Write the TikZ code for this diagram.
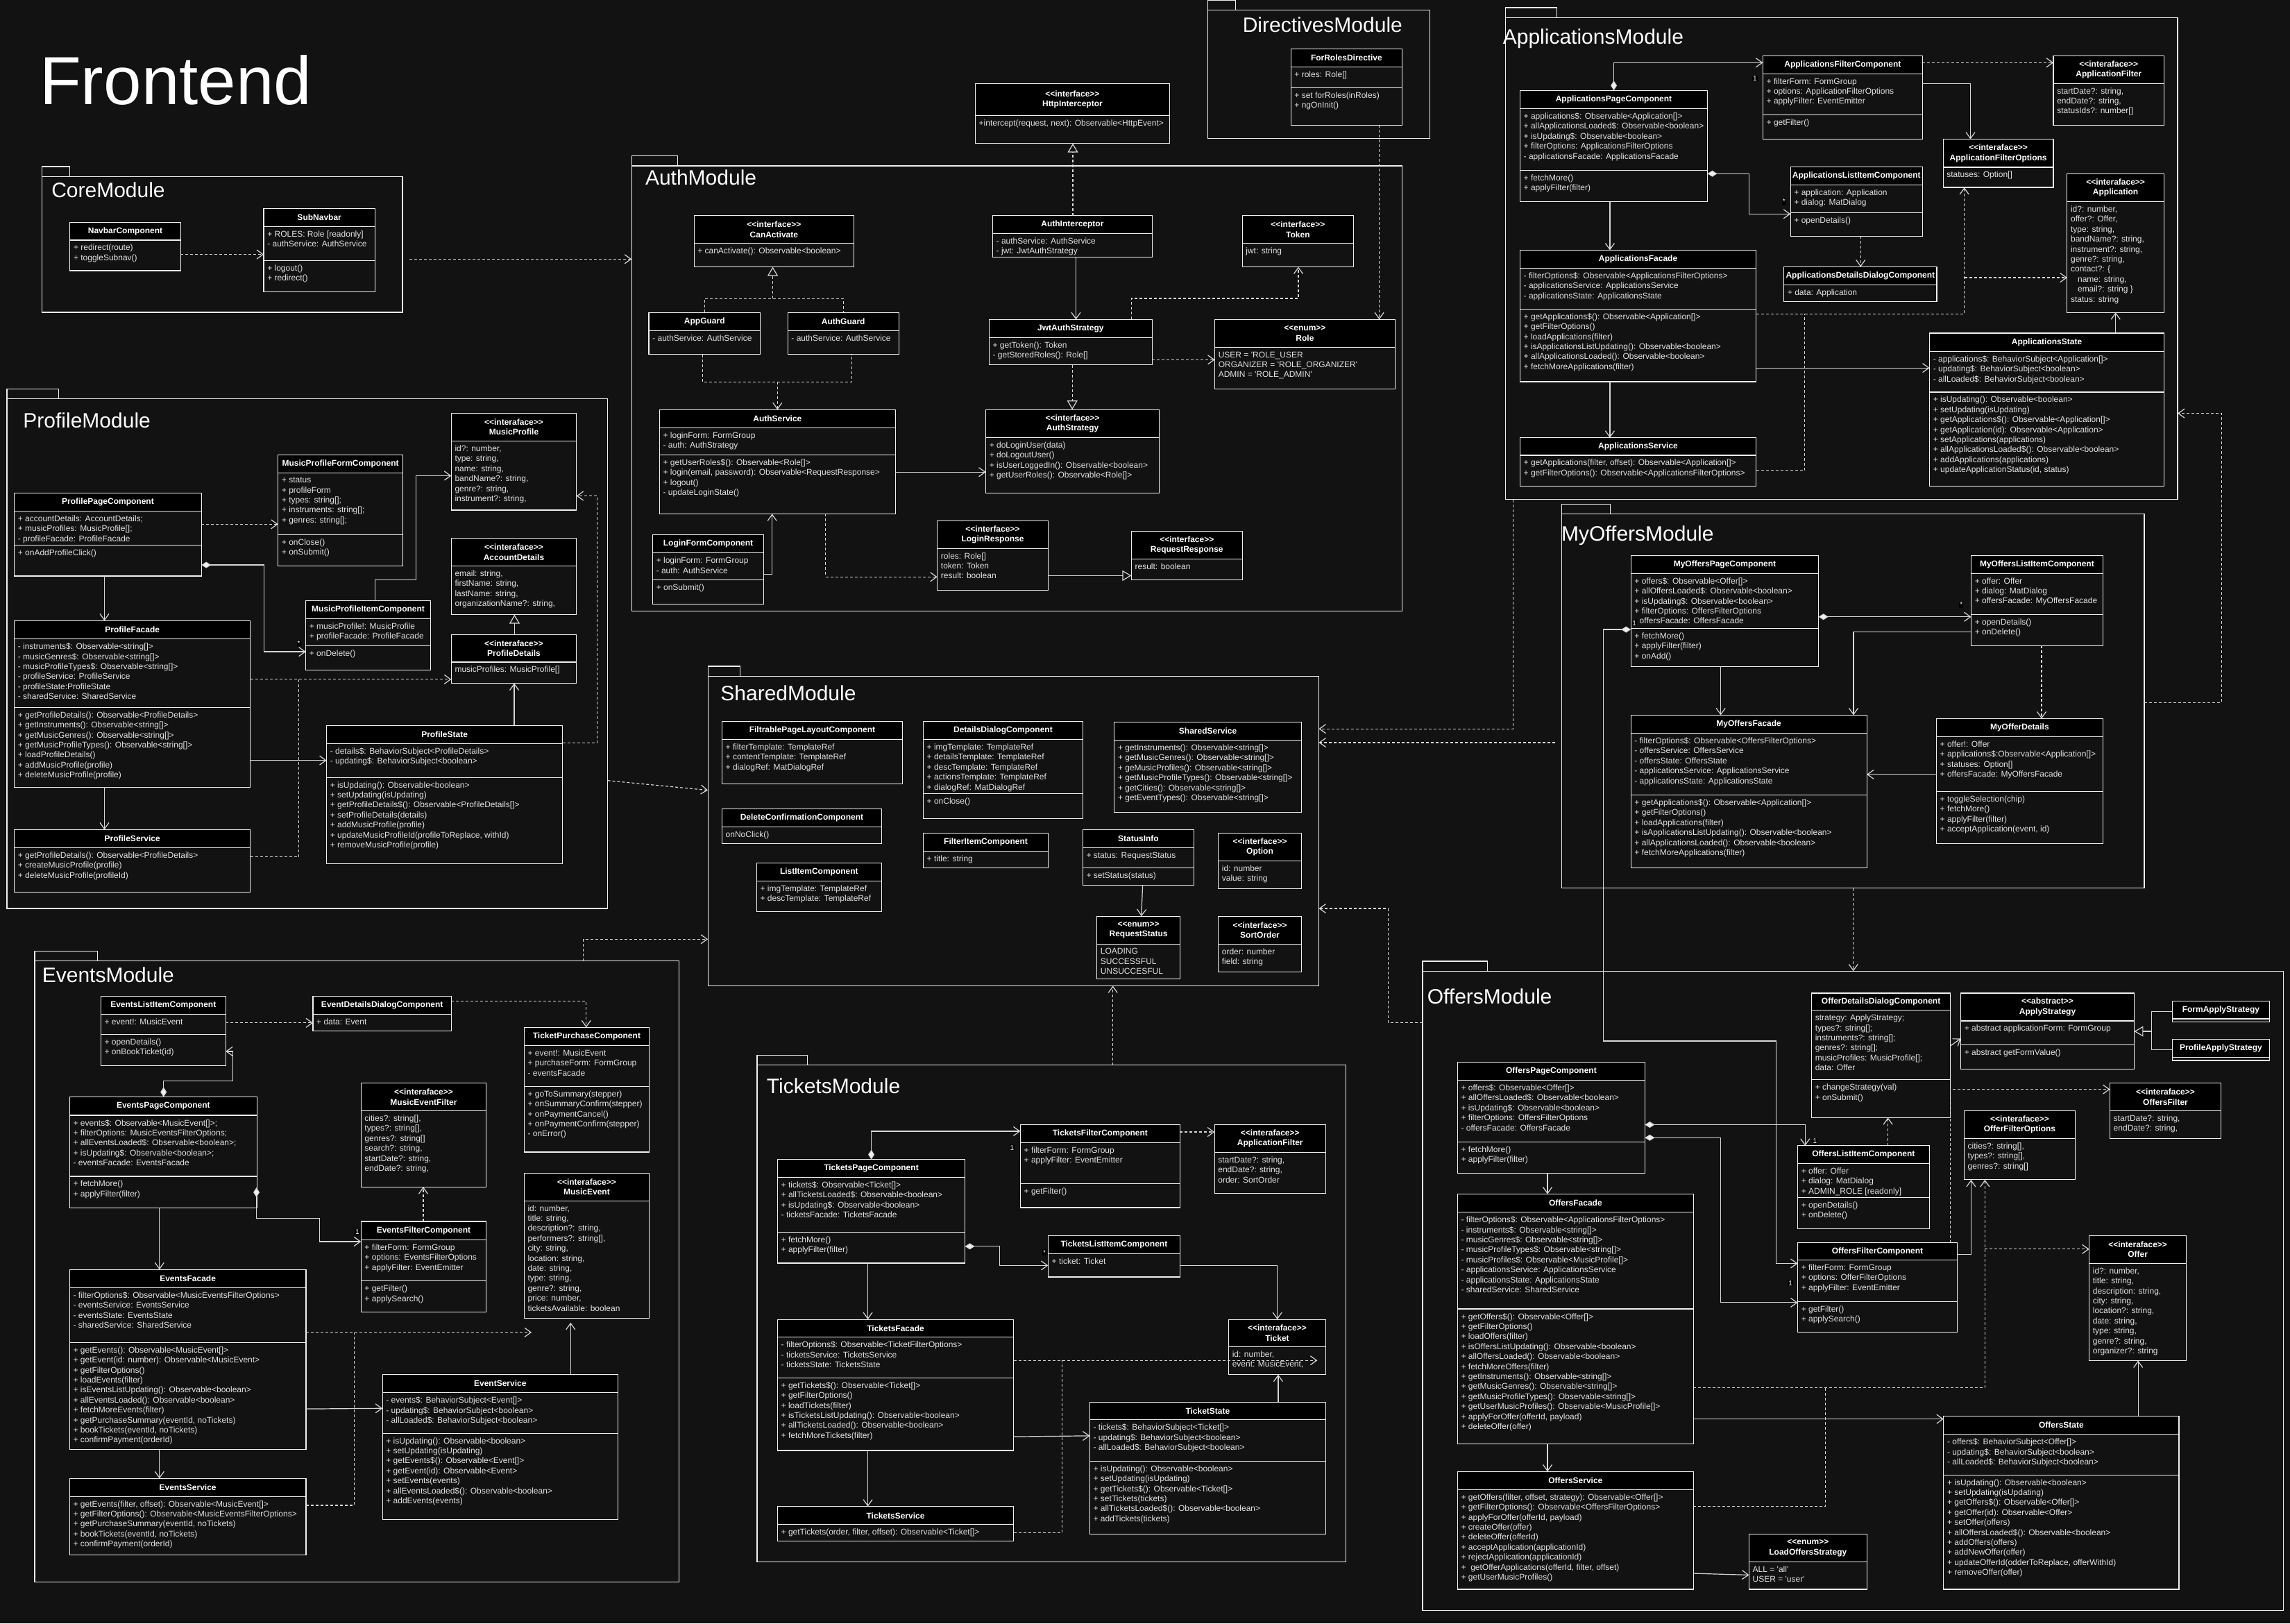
\documentclass[tikz,border=0pt]{standalone}
\usepackage{fontspec}
\setmainfont{Liberation Sans}
\newfontfamily\uif{Liberation Sans}
\usetikzlibrary{arrows.meta,fit}
\definecolor{bgc}{RGB}{18,18,18}
\definecolor{fgc}{RGB}{240,240,240}
\definecolor{txc}{RGB}{226,226,226}
\definecolor{lnc}{RGB}{215,215,215}
\tikzset{
  boxln/.style={draw=fgc, line width=1.2pt},
  pkgln/.style={draw=fgc, line width=1.2pt},
  hdr/.style={font=\uif\bfseries\fontsize{12}{14.4}\selectfont, text=white, align=center, inner sep=0pt},
  bodytxt/.style={font=\uif\fontsize{12}{14.4}\selectfont, text=txc, align=left, inner sep=0pt, anchor=north west},
  modtitle/.style={font=\uif\fontsize{30}{36}\selectfont, text=white, anchor=west, inner sep=0pt},
  mult/.style={font=\uif\fontsize{10}{12}\selectfont, text=white, fill=black, inner sep=1pt},
  conn/.style={draw=lnc, line width=1.2pt},
  dep/.style={conn, dash pattern=on 4pt off 3pt},
  opn/.style={-{Straight Barb[length=9pt,width=13pt]}},
  tri/.style={-{Triangle[open,length=13pt,width=15pt]}},
  comp/.style={conn, {Diamond[length=14pt,width=9pt,fill=fgc]}-{Straight Barb[length=9pt,width=13pt]}}
}
\newcommand\cls[9]{%
  \node[fit={(#2,#3) (#4,#5)}, inner sep=0pt, outer sep=0pt] (#1) {};
  \fill[bgc] (#2,#3) rectangle (#4,#5);
  \fill[black] (#2,#3) rectangle (#4,#6);
  \ifdim #7pt>0pt \draw[boxln] (#2,#7) -- (#4,#7); \coordinate (#1-m) at (#2,#7);\fi
  \draw[boxln] (#2,#6) -- (#4,#6);
  \draw[boxln] (#2,#3) rectangle (#4,#5);
  \node[hdr] at ({(#2+#4)/2},{(#3+#6)/2}) {#8};
  \node[bodytxt, xshift=5pt, yshift=-6pt] at (#2,#6) {#9};
}
\newcommand\mth[2]{\node[bodytxt, xshift=5pt, yshift=-6pt] at (#1-m) {#2};}
\newcommand\pkg[6]{%
  \node[fit={(#2,#3) (#4,#5)}, inner sep=0pt, outer sep=0pt] (#1) {};
  \draw[pkgln] (#2,#3) rectangle (#4,#5);
  \draw[pkgln] (#2,{#3-6.8}) rectangle ({#2+#6},#3);
}
\begin{document}
\begin{tikzpicture}[x=2.1046pt,y=-2.1046pt]
\useasboundingbox (0,0) rectangle (1568,1111.4);
\fill[bgc] (0,0) rectangle (1568,1111.4);

\node[font=\uif\fontsize{98}{100}\selectfont, text=white, anchor=base west, inner sep=0pt] (ttl) at (27,71.6) {Frontend};

% ---------------- packages
\pkg{core}{28.7}{120.8}{275.6}{213.8}{19.2}
\pkg{profile}{4.75}{273}{416}{622}{35.5}
\pkg{auth}{432.5}{113.6}{960}{418.2}{31.5}
\pkg{directives}{827}{6.8}{979}{94.9}{19}
\pkg{apps}{1031}{12}{1491}{342}{35}
\pkg{myoffers}{1069.5}{352}{1468.2}{608.1}{33}
\pkg{shared}{484.7}{462.9}{903}{674.9}{22}
\pkg{events}{23.8}{658}{465}{1083.1}{43}
\pkg{tickets}{518.4}{729.2}{921.5}{1069.4}{34.4}
\pkg{offers}{974}{664.9}{1563.5}{1102.5}{44.6}

\node[modtitle] (t1) at (35.2,129.9) {CoreModule};
\node[modtitle] (t2) at (15.8,288) {ProfileModule};
\node[modtitle] (t3) at (441.8,121.4) {AuthModule};
\node[modtitle] (t4) at (850.8,16.9) {DirectivesModule};
\node[modtitle] (t5) at (1029,26.5) {ApplicationsModule};
\node[modtitle] (t6) at (1069,366.7) {MyOffersModule};
\node[modtitle] (t7) at (493.3,474.6) {SharedModule};
\node[modtitle] (t8) at (28.8,667.7) {EventsModule};
\node[modtitle] (t9) at (524.9,743.6) {TicketsModule};
\node[modtitle] (t10) at (977.2,682.2) {OffersModule};

% ---------------- Core
\cls{nav}{47.9}{152.4}{123.7}{185.3}{164.4}{0}{NavbarComponent}{+ redirect(route)\\+ toggleSubnav()}
\cls{sub}{180.6}{142.7}{256.7}{199.9}{155.1}{178.3}{SubNavbar}{+ ROLES: Role [readonly]\\- authService: AuthService}
\mth{sub}{+ logout()\\+ redirect()}

% ---------------- Profile
\cls{ppc}{9.8}{337.7}{137.9}{394.4}{349.9}{373.2}{ProfilePageComponent}{+ accountDetails: AccountDetails;\\+ musicProfiles: MusicProfile[];\\- profileFacade: ProfileFacade}
\mth{ppc}{+ onAddProfileClick()}
\cls{mpf}{190.4}{311.4}{275.8}{387.5}{323.9}{366.0}{MusicProfileFormComponent}{+ status\\+ profileForm\\+ types: string[];\\+ instruments: string[];\\+ genres: string[];}
\mth{mpf}{+ onClose()\\+ onSubmit()}
\cls{mp}{309}{282.9}{394.7}{349.2}{302.0}{0}{<<interaface>>\\MusicProfile}{id?: number,\\type: string,\\name: string,\\bandName?: string,\\genre?: string,\\instrument?: string,}
\cls{ad}{309}{368.6}{394.7}{420.8}{387.4}{0}{<<interaface>>\\AccountDetails}{email: string,\\firstName: string,\\lastName: string,\\organizationName?: string,}
\cls{pd}{309}{434.4}{394.7}{467.8}{453.3}{0}{<<interaface>>\\ProfileDetails}{musicProfiles: MusicProfile[]}
\cls{mpi}{209.4}{411.2}{294.8}{458.6}{423.6}{442.0}{MusicProfileItemComponent}{+ musicProfile!: MusicProfile\\+ profileFacade: ProfileFacade}
\mth{mpi}{+ onDelete()}
\cls{pf}{9.8}{425}{171.4}{539}{437.4}{484.4}{ProfileFacade}{- instruments\$: Observable<string[]>\\- musicGenres\$: Observable<string[]>\\- musicProfileTypes\$: Observable<string[]>\\- profileService: ProfileService\\- profileState:ProfileState\\- sharedService: SharedService}
\mth{pf}{+ getProfileDetails(): Observable<ProfileDetails>\\+ getInstruments(): Observable<string[]>\\+ getMusicGenres(): Observable<string[]>\\+ getMusicProfileTypes(): Observable<string[]>\\+ loadProfileDetails()\\+ addMusicProfile(profile)\\+ deleteMusicProfile(profile)}
\cls{ps}{223.6}{496.6}{385.2}{591.5}{509.0}{532.3}{ProfileState}{- details\$: BehaviorSubject<ProfileDetails>\\- updating\$: BehaviorSubject<boolean>}
\mth{ps}{+ isUpdating(): Observable<boolean>\\+ setUpdating(isUpdating)\\+ getProfileDetails\$(): Observable<ProfileDetails[]>\\+ setProfileDetails(details)\\+ addMusicProfile(profile)\\+ updateMusicProfileId(profileToReplace, withId)\\+ removeMusicProfile(profile)}
\cls{psv}{9.8}{568}{171.4}{610.8}{580.4}{0}{ProfileService}{+ getProfileDetails(): Observable<ProfileDetails>\\+ createMusicProfile(profile)\\+ deleteMusicProfile(profileId)}

% ---------------- Auth
\cls{ca}{475.2}{147.5}{584.7}{182.7}{166.6}{0}{<<interface>>\\CanActivate}{+ canActivate(): Observable<boolean>}
\cls{ag}{444.3}{213.9}{520.5}{242.6}{226.3}{0}{AppGuard}{- authService: AuthService}
\cls{aug}{539.4}{213.9}{615.4}{242.6}{226.3}{0}{AuthGuard}{- authService: AuthService}
\cls{as}{451.6}{280.5}{613.1}{351.8}{292.9}{311.4}{AuthService}{+ loginForm: FormGroup\\- auth: AuthStrategy}
\mth{as}{+ getUserRoles\$(): Observable<Role[]>\\+ login(email, password): Observable<RequestResponse>\\+ logout()\\- updateLoginState()}
\cls{lf}{446.9}{366.2}{522.9}{413.7}{378.6}{397.1}{LoginFormComponent}{+ loginForm: FormGroup\\- auth: AuthService}
\mth{lf}{+ onSubmit()}
\cls{lr}{641.8}{356.7}{717.6}{404.0}{375.5}{0}{<<interface>>\\LoginResponse}{roles: Role[]\\token: Token\\result: boolean}
\cls{rr}{774.7}{363.8}{850.6}{396.8}{382.7}{0}{<<interface>>\\RequestResponse}{result: boolean}
\cls{hi}{667.8}{57.3}{800.8}{98.2}{79.1}{0}{<<interface>>\\HttpInterceptor}{+intercept(request, next): Observable<HttpEvent>}
\cls{ai}{679.7}{147.6}{788.9}{175.9}{159.8}{0}{AuthInterceptor}{- authService: AuthService\\- jwt: JwtAuthStrategy}
\cls{jw}{677.3}{218.7}{788.9}{249.8}{231}{0}{JwtAuthStrategy}{+ getToken(): Token\\- getStoredRoles(): Role[]}
\cls{tk}{850.6}{147.6}{926.8}{182.7}{166.6}{0}{<<interface>>\\Token}{jwt: string}
\cls{role}{831.8}{218.7}{955.2}{266.2}{237.8}{0}{<<enum>>\\Role}{USER = 'ROLE\_USER\\ORGANIZER = 'ROLE\_ORGANIZER'\\ADMIN = 'ROLE\_ADMIN'}
\cls{ast}{675}{280.4}{793.8}{337.6}{299.5}{0}{<<interface>>\\AuthStrategy}{+ doLoginUser(data)\\+ doLogoutUser()\\+ isUserLoggedIn(): Observable<boolean>\\+ getUserRoles(): Observable<Role[]>}
\cls{frd}{883.9}{33.5}{960}{85.6}{45.8}{60}{ForRolesDirective}{+ roles: Role[]}
\mth{frd}{+ set forRoles(inRoles)\\+ ngOnInit()}

% ---------------- Applications
\cls{apc}{1040.8}{61.9}{1169.1}{138.1}{74.3}{116.5}{ApplicationsPageComponent}{+ applications\$: Observable<Application[]>\\+ allApplicationsLoaded\$: Observable<boolean>\\+ isUpdating\$: Observable<boolean>\\+ filterOptions: ApplicationsFilterOptions\\- applicationsFacade: ApplicationsFacade}
\mth{apc}{+ fetchMore()\\+ applyFilter(filter)}
\cls{afc}{1207.1}{38.1}{1316.3}{95.1}{50.5}{78.5}{ApplicationsFilterComponent}{+ filterForm: FormGroup\\+ options: ApplicationFilterOptions\\+ applyFilter: EventEmitter}
\mth{afc}{+ getFilter()}
\cls{ali}{1226}{114.3}{1316.3}{161.7}{126.5}{145.5}{ApplicationsListItemComponent}{+ application: Application\\+ dialog: MatDialog}
\mth{ali}{+ openDetails()}
\cls{addc}{1221.5}{182.7}{1326.1}{206.3}{194.9}{0}{ApplicationsDetailsDialogComponent}{+ data: Application}
\cls{af}{1040.8}{171.3}{1202.4}{261.3}{183.5}{211.5}{ApplicationsFacade}{- filterOptions\$: Observable<ApplicationsFilterOptions>\\- applicationsService: ApplicationsService\\- applicationsState: ApplicationsState}
\mth{af}{+ getApplications\$(): Observable<Application[]>\\+ getFilterOptions()\\+ loadApplications(filter)\\+ isApplicationsListUpdating(): Observable<boolean>\\+ allApplicationsLoaded(): Observable<boolean>\\+ fetchMoreApplications(filter)}
\cls{asv}{1040.8}{299.7}{1202.4}{332.7}{311.7}{0}{ApplicationsService}{+ getApplications(filter, offset): Observable<Application[]>\\+ getFilterOptions(): Observable<ApplicationsFilterOptions>}
\cls{afo}{1330.5}{95.3}{1406}{128.3}{114.5}{0}{<<interaface>>\\ApplicationFilterOptions}{statuses: Option[]}
\cls{afl}{1406}{38.1}{1481.7}{85.7}{57.1}{0}{<<interaface>>\\ApplicationFilter}{startDate?: string,\\endDate?: string,\\statusIds?: number[]}
\cls{app}{1415.4}{118.9}{1481.7}{213.9}{138.1}{0}{<<interaface>>\\Application}{id?: number,\\offer?: Offer,\\type: string,\\bandName?: string,\\instrument?: string,\\genre?: string,\\contact?: \{\\\hspace*{10pt}name: string,\\\hspace*{10pt}email?: string \}\\status: string}
\cls{ast2}{1321.2}{228.1}{1481.7}{332.7}{240.5}{268.5}{ApplicationsState}{- applications\$: BehaviorSubject<Application[]>\\- updating\$: BehaviorSubject<boolean>\\- allLoaded\$: BehaviorSubject<boolean>}
\mth{ast2}{+ isUpdating(): Observable<boolean>\\+ setUpdating(isUpdating)\\+ getApplications\$(): Observable<Application[]>\\+ getApplication(id): Observable<Application>\\+ setApplications(applications)\\+ allApplicationsLoaded\$(): Observable<boolean>\\+ addApplications(applications)\\+ updateApplicationStatus(id, status)}

% ---------------- MyOffers
\cls{mopc}{1116.7}{380.2}{1245.2}{456.3}{392.6}{430.2}{MyOffersPageComponent}{+ offers\$: Observable<Offer[]>\\+ allOffersLoaded\$: Observable<boolean>\\+ isUpdating\$: Observable<boolean>\\+ filterOptions: OffersFilterOptions\\- offersFacade: OffersFacade}
\mth{mopc}{+ fetchMore()\\+ applyFilter(filter)\\+ onAdd()}
\cls{moli}{1349.7}{380.2}{1439.8}{442}{392.6}{420.7}{MyOffersListItemComponent}{+ offer: Offer\\+ dialog: MatDialog\\+ offersFacade: MyOffersFacade}
\mth{moli}{+ openDetails()\\+ onDelete()}
\cls{mof}{1116.7}{489.6}{1278.2}{594}{502}{544.2}{MyOffersFacade}{- filterOptions\$: Observable<OffersFilterOptions>\\- offersService: OffersService\\- offersState: OffersState\\- applicationsService: ApplicationsService\\- applicationsState: ApplicationsState}
\mth{mof}{+ getApplications\$(): Observable<Application[]>\\+ getFilterOptions()\\+ loadApplications(filter)\\+ isApplicationsListUpdating(): Observable<boolean>\\+ allApplicationsLoaded(): Observable<boolean>\\+ fetchMoreApplications(filter)}
\cls{mod}{1325.9}{492}{1439.8}{577.4}{504.4}{542}{MyOfferDetails}{+ offer!: Offer\\+ applications\$:Observable<Application[]>\\+ statuses: Option[]\\+ offersFacade: MyOffersFacade}
\mth{mod}{+ toggleSelection(chip)\\+ fetchMore()\\+ applyFilter(filter)\\+ acceptApplication(event, id)}

% ---------------- Shared
\cls{fpl}{494.4}{493.8}{617.9}{536.6}{506.3}{0}{FiltrablePageLayoutComponent}{+ filterTemplate: TemplateRef\\+ contentTemplate: TemplateRef\\+ dialogRef: MatDialogRef}
\cls{ddc}{632.2}{493.8}{741.4}{560.3}{506.3}{543.5}{DetailsDialogComponent}{+ imgTemplate: TemplateRef\\+ detailsTemplate: TemplateRef\\+ descTemplate: TemplateRef\\+ actionsTemplate: TemplateRef\\+ dialogRef: MatDialogRef}
\mth{ddc}{+ onClose()}
\cls{ss}{763}{494.3}{891.1}{556.2}{506.8}{0}{SharedService}{+ getInstruments(): Observable<string[]>\\+ getMusicGenres(): Observable<string[]>\\+ geMusicProfiles(): Observable<string[]>\\+ getMusicProfileTypes(): Observable<string[]>\\+ getCities(): Observable<string[]>\\+ getEventTypes(): Observable<string[]>}
\cls{dcc}{494.4}{553.8}{603.6}{577.6}{566.2}{0}{DeleteConfirmationComponent}{onNoClick()}
\cls{lic}{518.1}{590.7}{603.6}{624}{603.2}{0}{ListItemComponent}{+ imgTemplate: TemplateRef\\+ descTemplate: TemplateRef}
\cls{fic}{632.2}{570.3}{717.7}{594.1}{582.8}{0}{FilterItemComponent}{+ title: string}
\cls{si}{741.4}{567.9}{817.5}{605.9}{580.4}{594.2}{StatusInfo}{+ status: RequestStatus}
\mth{si}{+ setStatus(status)}
\cls{rs}{751.1}{627.3}{808}{670.2}{646.3}{0}{<<enum>>\\RequestStatus}{LOADING\\SUCCESSFUL\\UNSUCCESFUL}
\cls{opt}{834.2}{570.3}{891.1}{608.3}{589.3}{0}{<<interface>>\\Option}{id: number\\value: string}
\cls{so}{834.2}{627.3}{891.1}{665.3}{646.3}{0}{<<interface>>\\SortOrder}{order: number\\field: string}

% ---------------- Events
\cls{eli}{69.1}{681.9}{154.5}{729.6}{694.4}{708.1}{EventsListItemComponent}{+ event!: MusicEvent}
\mth{eli}{+ openDetails()\\+ onBookTicket(id)}
\cls{edd}{214.3}{681.9}{309}{705.9}{694.4}{0}{EventDetailsDialogComponent}{+ data: Event}
\cls{tpc}{358.9}{703.4}{444.5}{788.7}{715.9}{743.8}{TicketPurchaseComponent}{+ event!: MusicEvent\\+ purchaseForm: FormGroup\\- eventsFacade}
\mth{tpc}{+ goToSummary(stepper)\\+ onSummaryConfirm(stepper)\\+ onPaymentCancel()\\+ onPaymentConfirm(stepper)\\- onError()}
\cls{epc}{47.7}{751}{176}{826.9}{763.6}{805.4}{EventsPageComponent}{+ events\$: Observable<MusicEvent[]>;\\+ filterOptions: MusicEventsFilterOptions;\\+ allEventsLoaded\$: Observable<boolean>;\\+ isUpdating\$: Observable<boolean>;\\- eventsFacade: EventsFacade}
\mth{epc}{+ fetchMore()\\+ applyFilter(filter)}
\cls{mef}{247.2}{741.6}{332.9}{812.6}{760.5}{0}{<<interaface>>\\MusicEventFilter}{cities?: string[],\\types?: string[],\\genres?: string[]\\search?: string,\\startDate?: string,\\endDate?: string,}
\cls{efc}{247.2}{836.3}{332.9}{898.2}{848.9}{877}{EventsFilterComponent}{+ filterForm: FormGroup\\+ options: EventsFilterOptions\\+ applyFilter: EventEmitter}
\mth{efc}{+ getFilter()\\+ applySearch()}
\cls{me}{358.9}{803.2}{444.5}{902.7}{822.1}{0}{<<interaface>>\\MusicEvent}{id: number,\\title: string,\\description?: string,\\performers?: string[],\\city: string,\\location: string,\\date: string,\\type: string,\\genre?: string,\\price: number,\\ticketsAvailable: boolean}
\cls{ef}{47.7}{869.2}{209.5}{992.4}{881.5}{919.1}{EventsFacade}{- filterOptions\$: Observable<MusicEventsFilterOptions>\\- eventsService: EventsService\\- eventsState: EventsState\\- sharedService: SharedService}
\mth{ef}{+ getEvents(): Observable<MusicEvent[]>\\+ getEvent(id: number): Observable<MusicEvent>\\+ getFilterOptions()\\+ loadEvents(filter)\\+ isEventsListUpdating(): Observable<boolean>\\+ allEventsLoaded(): Observable<boolean>\\+ fetchMoreEvents(filter)\\+ getPurchaseSummary(eventId, noTickets)\\+ bookTickets(eventId, noTickets)\\+ confirmPayment(orderId)}
\cls{evs}{261.9}{941.2}{423.1}{1040.4}{953.4}{981.3}{EventService}{- events\$: BehaviorSubject<Event[]>\\- updating\$: BehaviorSubject<boolean>\\- allLoaded\$: BehaviorSubject<boolean>}
\mth{evs}{+ isUpdating(): Observable<boolean>\\+ setUpdating(isUpdating)\\+ getEvents\$(): Observable<Event[]>\\+ getEvent(id): Observable<Event>\\+ setEvents(events)\\+ allEventsLoaded\$(): Observable<boolean>\\+ addEvents(events)}
\cls{esv}{47.7}{1012.2}{209.5}{1064.4}{1024.5}{0}{EventsService}{+ getEvents(filter, offset): Observable<MusicEvent[]>\\+ getFilterOptions(): Observable<MusicEventsFilterOptions>\\+ getPurchaseSummary(eventId, noTickets)\\+ bookTickets(eventId, noTickets)\\+ confirmPayment(orderId)}

% ---------------- Tickets
\cls{tpc2}{532.4}{793.8}{660.7}{864.8}{806}{843.6}{TicketsPageComponent}{+ tickets\$: Observable<Ticket[]>\\+ allTicketsLoaded\$: Observable<boolean>\\+ isUpdating\$: Observable<boolean>\\- ticketsFacade: TicketsFacade}
\mth{tpc2}{+ fetchMore()\\+ applyFilter(filter)}
\cls{tfc}{698.7}{770.1}{807.9}{826.8}{782.3}{810.4}{TicketsFilterComponent}{+ filterForm: FormGroup\\+ applyFilter: EventEmitter}
\mth{tfc}{+ getFilter()}
\cls{taf}{831.6}{770.1}{907.7}{817.2}{788.9}{0}{<<interaface>>\\ApplicationFilter}{startDate?: string,\\endDate?: string,\\order: SortOrder}
\cls{tli}{717.7}{846}{807.9}{874.3}{858.2}{0}{TicketsListItemComponent}{+ ticket: Ticket}
\cls{tkt}{841.3}{903.3}{907.7}{941.1}{922.1}{0}{<<interaface>>\\Ticket}{id: number,\\event: MusicEvent,}
\cls{tf}{532.4}{903.3}{694}{993.1}{915.5}{943.3}{TicketsFacade}{- filterOptions\$: Observable<TicketFilterOptions>\\- ticketsService: TicketsService\\- ticketsState: TicketsState}
\mth{tf}{+ getTickets\$(): Observable<Ticket[]>\\+ getFilterOptions()\\+ loadTickets(filter)\\+ isTicketsListUpdating(): Observable<boolean>\\+ allTicketsLoaded(): Observable<boolean>\\+ fetchMoreTickets(filter)}
\cls{tst}{746.2}{959.9}{907.7}{1050.4}{972.1}{1000.4}{TicketState}{- tickets\$: BehaviorSubject<Ticket[]>\\- updating\$: BehaviorSubject<boolean>\\- allLoaded\$: BehaviorSubject<boolean>}
\mth{tst}{+ isUpdating(): Observable<boolean>\\+ setUpdating(isUpdating)\\+ getTickets\$(): Observable<Ticket[]>\\+ setTickets(tickets)\\+ allTicketsLoaded\$(): Observable<boolean>\\+ addTickets(tickets)}
\cls{tsv}{532.4}{1031.4}{694}{1055.1}{1043.8}{0}{TicketsService}{+ getTickets(order, filter, offset): Observable<Ticket[]>}

% ---------------- Offers
\cls{odd}{1240.4}{679.9}{1335.5}{765.1}{691.7}{739.2}{OfferDetailsDialogComponent}{strategy: ApplyStrategy;\\types?: string[];\\instruments?: string[];\\genres?: string[];\\musicProfiles: MusicProfile[];\\data: Offer}
\mth{odd}{+ changeStrategy(val)\\+ onSubmit()}
\cls{aps}{1342.6}{679.9}{1461.3}{732}{698.9}{715.3}{<<abstract>>\\ApplyStrategy}{+ abstract applicationForm: FormGroup}
\mth{aps}{+ abstract getFormValue()}
\cls{fas}{1487.5}{685.4}{1553.9}{699.8}{697.5}{0}{FormApplyStrategy}{}
\cls{pas}{1487.5}{711.6}{1553.9}{726}{723.7}{0}{ProfileApplyStrategy}{}
\cls{ofl}{1444.7}{741.5}{1520.7}{779.5}{760.5}{0}{<<interaface>>\\OffersFilter}{startDate?: string,\\endDate?: string,}
\cls{ofo}{1344.9}{760.5}{1420.9}{807.7}{779.5}{0}{<<interaface>>\\OfferFilterOptions}{cities?: string[],\\types?: string[],\\genres?: string[]}
\cls{oli}{1230.9}{784.4}{1321}{841.1}{796.5}{819.8}{OffersListItemComponent}{+ offer: Offer\\+ dialog: MatDialog\\+ ADMIN\_ROLE [readonly]}
\mth{oli}{+ openDetails()\\+ onDelete()}
\cls{opc}{998}{727.4}{1126.3}{803.1}{739.5}{781.8}{OffersPageComponent}{+ offers\$: Observable<Offer[]>\\+ allOffersLoaded\$: Observable<boolean>\\+ isUpdating\$: Observable<boolean>\\+ filterOptions: OffersFilterOptions\\- offersFacade: OffersFacade}
\mth{opc}{+ fetchMore()\\+ applyFilter(filter)}
\cls{ofc}{1230.9}{850.9}{1340.1}{912.2}{862.7}{891.2}{OffersFilterComponent}{+ filterForm: FormGroup\\+ options: OfferFilterOptions\\+ applyFilter: EventEmitter}
\mth{ofc}{+ getFilter()\\+ applySearch()}
\cls{off}{1430.5}{846}{1497}{931.5}{865}{0}{<<interaface>>\\Offer}{id?: number,\\title: string,\\description: string,\\city: string,\\location?: string,\\date: string,\\type: string,\\genre?: string,\\organizer?: string}
\cls{of}{998}{817.5}{1159.5}{988.5}{829.9}{896.1}{OffersFacade}{- filterOptions\$: Observable<ApplicationsFilterOptions>\\- instruments\$: Observable<string[]>\\- musicGenres\$: Observable<string[]>\\- musicProfileTypes\$: Observable<string[]>\\- musicProfiles\$: Observable<MusicProfile[]>\\- applicationsService: ApplicationsService\\- applicationsState: ApplicationsState\\- sharedService: SharedService}
\mth{of}{+ getOffers\$(): Observable<Offer[]>\\+ getFilterOptions()\\+ loadOffers(filter)\\+ isOffersListUpdating(): Observable<boolean>\\+ allOffersLoaded(): Observable<boolean>\\+ fetchMoreOffers(filter)\\+ getInstruments(): Observable<string[]>\\+ getMusicGenres(): Observable<string[]>\\+ getMusicProfileTypes(): Observable<string[]>\\+ getUserMusicProfiles(): Observable<MusicProfile[]>\\+ applyForOffer(offerId, payload)\\+ deleteOffer(offer)}
\cls{ost}{1330.8}{969.5}{1492}{1088.1}{981.9}{1009.8}{OffersState}{- offers\$: BehaviorSubject<Offer[]>\\- updating\$: BehaviorSubject<boolean>\\- allLoaded\$: BehaviorSubject<boolean>}
\mth{ost}{+ isUpdating(): Observable<boolean>\\+ setUpdating(isUpdating)\\+ getOffers\$(): Observable<Offer[]>\\+ getOffer(id): Observable<Offer>\\+ setOffer(offers)\\+ allOffersLoaded\$(): Observable<boolean>\\+ addOffers(offers)\\+ addNewOffer(offer)\\+ updateOfferId(odderToReplace, offerWithId)\\+ removeOffer(offer)}
\cls{osv}{998}{1007.5}{1159.5}{1088.1}{1019.9}{0}{OffersService}{+ getOffers(filter, offset, strategy): Observable<Offer[]>\\+ getFilterOptions(): Observable<OffersFilterOptions>\\+ applyForOffer(offerId, payload)\\+ createOffer(offer)\\+ deleteOffer(offerId)\\+ acceptApplication(applicationId)\\+ rejectApplication(applicationId)\\+ \ getOfferApplications(offerId, filter, offset)\\+ getUserMusicProfiles()}
\cls{los}{1197.6}{1050.4}{1278.3}{1088.1}{1069.4}{0}{<<enum>>\\LoadOffersStrategy}{ALL = 'all'\\USER = 'user'}

% ================= connectors
% Core
\draw[dep,opn] (nav.east |- 0,174.2) -- (sub.west |- 0,174.2);
\coordinate (coreout) at (280.4,177.4);
\draw[dep,opn] (coreout) -- (auth.west |- 0,177.4);

% Profile
\draw[dep,opn] (ppc.east |- 0,358.9) -- (mpf.west |- 0,358.9);
\draw[comp] (ppc.east |- 0,386.8) -| (180.9,446.2) -- (mpi.west |- 0,446.2);
\node[mult] at (204.6,440.4) {*};
\draw[conn,opn] (ppc.south -| 71.5,0) -- (pf.north -| 71.5,0);
\draw[conn,opn] (mpi.north -| 256.8,0) -- (256.8,396.9) -- (285,396.9) -- (285,325.7) -- (mp.west |- 0,325.7);
\draw[dep,opn] (pf.east |- 0,465.1) -- (pd.west |- 0,465.1);
\draw[dep] (psv.east |- 0,586.7) -| (204.6,465.1);
\draw[conn,opn] (pf.east |- 0,520.6) -- (ps.west |- 0,520.6);
\draw[conn,opn] (pf.south -| 71.5,0) -- (psv.north -| 71.5,0);
\draw[conn,opn] (ps.north -| 352.1,0) -- (pd.south -| 352.1,0);
\draw[dep,opn] (ps.east |- 0,508.6) -| (408.7,339.5) -- (mp.east |- 0,339.5);
\draw[conn,tri] (pd.north -| 352.3,0) -- (ad.south -| 352.3,0);

% Auth
\draw[dep] (ag.north -| 482.5,0) |- (577.6,204.4) -- (aug.north -| 577.6,0);
\draw[dep,tri] (529.1,204.4) -- (ca.south -| 529.1,0);
\draw[dep] (ag.south -| 480.9,0) |- (583.3,261.4) -- (aug.south -| 583.3,0);
\draw[dep,opn] (532.3,261.4) -- (as.north -| 532.3,0);
\draw[conn,opn] (as.east |- 0,323.2) -- (ast.west |- 0,323.2);
\draw[conn,opn] (lf.east |- 0,393.2) -| (as.south -| 528.7,0);
\draw[dep,opn] (as.south -| 565.3,0) |- (lr.west |- 0,395);
\draw[conn,tri] (lr.east |- 0,394.1) -- (rr.west |- 0,394.1);
\draw[dep,tri] (ai.north -| 734.6,0) -- (hi.south -| 734.6,0);
\draw[conn,opn] (ai.south -| 736.7,0) -- (jw.north -| 736.7,0);
\draw[dep,opn] (jw.north -| 774.7,0) |- (889,204.3) -- (tk.south -| 889,0);
\draw[dep,opn] (jw.east |- 0,246.3) -- (role.west |- 0,246.3);
\draw[dep,tri] (jw.south -| 734.2,0) -- (ast.north -| 734.2,0);
\draw[dep,opn] (frd.south -| 944.4,0) -- (role.north -| 944.4,0);

% Applications
\draw[comp] (apc.north -| 1105,0) |- (afc.west |- 0,42.9);
\node[mult] at (1201.6,53.7) {1};
\draw[comp] (apc.east |- 0,118.9) -| (1197.6,146.5) -- (ali.west |- 0,146.5);
\node[mult] at (1221.5,137.9) {*};
\draw[dep,opn] (ali.south -| 1274,0) -- (addc.north -| 1274,0);
\draw[conn,opn] (apc.south -| 1102.3,0) -- (af.north -| 1102.3,0);
\draw[conn,opn] (af.east |- 0,251.9) -- (ast2.west |- 0,251.9);
\draw[conn,opn] (af.south -| 1102.3,0) -- (asv.north -| 1102.3,0);
\draw[dep,opn] (af.east |- 0,214.9) -| (afo.south -| 1345,0);
\draw[dep,opn] (1345,190.1) -- (app.west |- 0,190.1);
\draw[dep] (asv.east |- 0,322.1) -| (1235.8,214.9);
\draw[dep,opn] (afc.east |- 0,42.9) -- (afl.west |- 0,42.9);
\draw[conn,opn] (afc.east |- 0,57.1) -| (afo.north -| 1349.2,0);
\draw[conn,opn] (ast2.north -| 1448.6,0) -- (app.south -| 1448.6,0);

% MyOffers
\draw[comp] (mopc.east |- 0,422.3) -- (moli.west |- 0,422.3);
\node[mult] at (1342.9,414.1) {*};
\draw[conn,opn] (moli.west |- 0,432.6) -| (mof.north -| 1269.1,0);
\draw[conn,opn] (mopc.south -| 1178.2,0) -- (mof.north -| 1178.2,0);
\draw[dep,opn] (moli.south -| 1397.9,0) -- (mod.north -| 1397.9,0);
\draw[conn,opn] (mod.west |- 0,530.2) -- (mof.east |- 0,530.2);
\draw[comp] (mopc.west |- 0,431) -| (1097.7,712.7) -| (1216.2,865) -- (ofc.west |- 0,865);
\node[mult] at (1119,426.5) {1};

% Shared
\draw[conn,opn] (si.south -| 782.4,0) -- (rs.north -| 781.5,0);

% Events
\draw[dep,opn] (eli.east |- 0,700.3) -- (edd.west |- 0,700.3);
\draw[dep,opn] (edd.east |- 0,685.5) -| (tpc.north -| 401.4,0);
\draw[comp] (epc.north -| 112,0) |- (159.3,740.2) |- (eli.east |- 0,719.8);
\draw[dep,opn] (efc.north -| 289.8,0) -- (mef.south -| 289.8,0);
\draw[comp] (175.6,813) |- (218.8,834.1) |- (efc.west |- 0,850);
\node[mult] at (244.6,843.6) {1};
\draw[conn,opn] (epc.south -| 109.2,0) -- (ef.north -| 109.2,0);
\draw[dep,opn] (ef.east |- 0,912.2) -- (364,912.2);
\draw[dep] (esv.east |- 0,1030.6) -| (242.4,912.2);
\draw[conn,opn] (ef.east |- 0,964.6) -- (evs.west |- 0,964.2);
\draw[conn,opn] (evs.north -| 390.7,0) -- (390.7,905.5);
\draw[conn,opn] (ef.south -| 109.2,0) -- (esv.north -| 109.2,0);

% Tickets
\draw[comp] (tpc2.north -| 596.6,0) |- (tfc.west |- 0,774.5);
\node[mult] at (693,785.8) {1};
\draw[dep,opn] (tfc.east |- 0,775) -- (taf.west |- 0,775);
\draw[comp] (tpc2.east |- 0,853.3) -| (684.4,866.4) -- (tli.west |- 0,866.4);
\node[mult] at (715.1,857.5) {*};
\draw[conn,opn] (tli.east |- 0,866.4) -| (tkt.north -| 874.6,0);
\draw[conn,opn] (tpc2.south -| 594.2,0) -- (tf.north -| 594.2,0);
\draw[dep,opn] (tf.east |- 0,931.4) -- (902,931.4);
\draw[dep] (tsv.east |- 0,1049.3) -| (727.1,931.4);
\draw[conn,opn] (tf.east |- 0,983.6) -- (tst.west |- 0,983);
\draw[conn,opn] (tst.north -| 875.2,0) -- (tkt.south -| 875.2,0);
\draw[conn,opn] (tf.south -| 594.2,0) -- (tsv.north -| 594.2,0);

% Offers
\draw[comp] (opc.east |- 0,770) -| (oli.north -| 1236,0);
\node[mult] at (1242.7,781.2) {1};
\draw[comp] (opc.east |- 0,778.9) -| (1178.3,891.8) -- (ofc.west |- 0,891.8);
\node[mult] at (1226,878.5) {1};
\draw[dep,opn] (oli.north -| 1292.7,0) -- (odd.south -| 1292.7,0);
\draw[dep,opn] (ofc.north -| 1335.5,0) |- (ofl.west |- 0,745.8);
\draw[conn,opn] (ofc.east |- 0,858.9) -| (ofo.south -| 1349.6,0);
\draw[dep,opn] (of.east |- 0,950.2) -| (ofo.south -| 1359.1,0);
\draw[dep,opn] (1359.1,855.2) -- (off.west |- 0,855.2);
\draw[dep] (osv.east |- 0,1031.4) -| (1249.9,950.2);
\draw[conn,opn] (of.east |- 0,971.5) -- (ost.west |- 0,971.5);
\draw[conn,opn] (ost.north -| 1464,0) -- (off.south -| 1464,0);
\draw[conn,opn] (opc.south -| 1059.6,0) -- (of.north -| 1059.6,0);
\draw[conn,opn] (of.south -| 1059.6,0) -- (osv.north -| 1059.6,0);
\draw[conn,opn] (osv.east |- 0,1077.2) -- (los.west |- 0,1078.3);
\draw[conn] (fas.west |- 0,692.6) -| (1473.2,706.1);
\draw[conn] (pas.west |- 0,718.5) -| (1473.2,706.1);
\draw[conn,tri] (1473.2,706.1) -- (aps.east |- 0,706.1);
\draw[conn,opn] (odd.east |- 0,716) -- (aps.west |- 0,711);

% Inter-module
\draw[dep,opn] (profile.east |- 0,534.4) -- (shared.west |- 0,541);
\draw[dep,opn] (events.north -| 399.4,0) |- (shared.west |- 0,643);
\draw[dep,opn] (tickets.north -| 762,0) -- (shared.south -| 762,0);
\draw[dep,opn] (apps.south -| 1036.2,0) |- (shared.east |- 0,499);
\coordinate (myout) at (1064.8,508.4);
\draw[dep,opn] (myout) -- (shared.east |- 0,508.4);
\draw[dep,opn] (offers.west |- 0,700) -| (950.5,622) -- (shared.east |- 0,622);
\draw[dep,opn] (myoffers.east |- 0,481) -| (1521,283) -- (apps.east |- 0,283);
\draw[dep,opn] (myoffers.south -| 1269,0) -- (offers.north -| 1269,0);
\end{tikzpicture}
\end{document}
